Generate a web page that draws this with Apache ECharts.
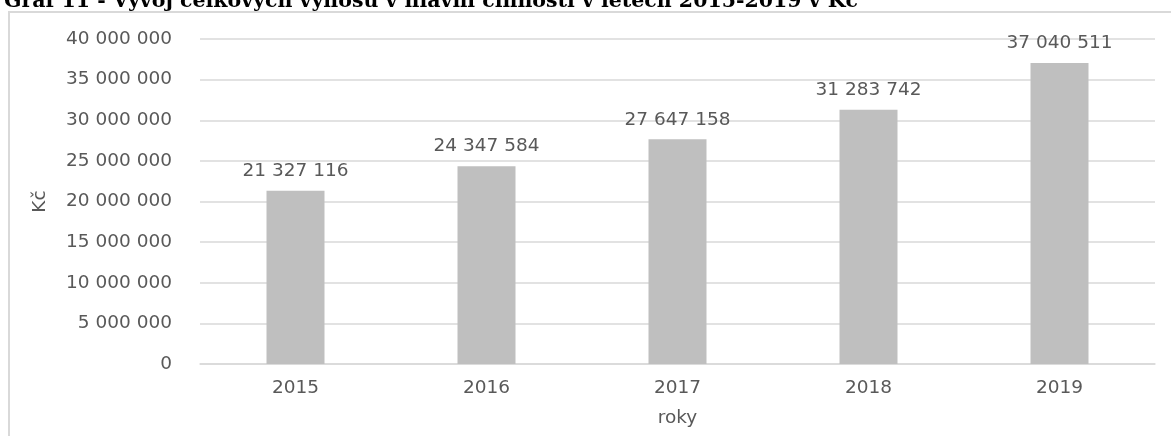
<!DOCTYPE html>
<html>
<head>
<meta charset="utf-8">
<script src="https://cdn.jsdelivr.net/npm/echarts@6/dist/echarts.min.js"></script>
<style>
  html, body { margin: 0; padding: 0; background: #fff; }
  #chart { width: 1171px; height: 436px; }
</style>
</head>
<body>
<div id="chart"></div>
<script>
// data
let years = ['2015', '2016', '2017', '2018', '2019']
let vynosy = [21327116, 24347584, 27647158, 31283742, 37040511]
let titleText = 'Graf 11 - Vývoj celkových výnosů v hlavní činnosti v letech 2015-2019 v Kč'

function fmt(v) {
    return String(v).replace(/\B(?=(\d{3})+(?!\d))/g, ' ')
}

let gray = '#595959'
let font = 'DejaVu Sans'

var myChart = echarts.init(document.getElementById('chart'))
var option = {
    animation: false,
    title: {
        text: titleText,
        left: -1,
        top: -14,
        textStyle: {
            fontFamily: 'DejaVu Serif',
            fontWeight: 'bold',
            fontSize: 20.5,
            color: '#000'
        }
    },
    graphic: [{
        type: 'rect',
        shape: { x: 9, y: 12, width: 1200, height: 460 },
        style: { fill: 'none', stroke: '#d9d9d9', lineWidth: 2 },
        silent: true
    }],
    grid: {
        left: 200,
        right: 16,
        top: 39,
        bottom: 72
    },
    xAxis: {
        type: 'category',
        data: years,
        name: 'roky',
        nameLocation: 'middle',
        nameGap: 45,
        nameTextStyle: { color: gray, fontFamily: font, fontSize: 18.5 },
        axisLine: { lineStyle: { color: '#d9d9d9', width: 1.5 } },
        axisTick: { show: false },
        axisLabel: { color: gray, fontFamily: font, fontSize: 18.5, margin: 15 }
    },
    yAxis: {
        type: 'value',
        min: 0,
        max: 40000000,
        interval: 5000000,
        name: 'Kč',
        nameLocation: 'middle',
        nameGap: 150,
        nameRotate: 90,
        nameTextStyle: { color: gray, fontFamily: font, fontSize: 18.5 },
        axisLine: { show: false },
        axisTick: { show: false },
        splitLine: { lineStyle: { color: '#d9d9d9', width: 1.5 } },
        axisLabel: {
            color: gray,
            fontFamily: font,
            fontSize: 18.5,
            margin: 28,
            formatter: function (v) { return fmt(v) }
        }
    },
    series: [{
        type: 'bar',
        data: vynosy,
        barWidth: 58,
        itemStyle: { color: '#bfbfbf' },
        label: {
            show: true,
            position: 'top',
            distance: 10,
            color: gray,
            fontFamily: font,
            fontSize: 18.5,
            formatter: function (p) { return fmt(p.value) }
        }
    }]
}
myChart.setOption(option)
</script>
</body>
</html>
